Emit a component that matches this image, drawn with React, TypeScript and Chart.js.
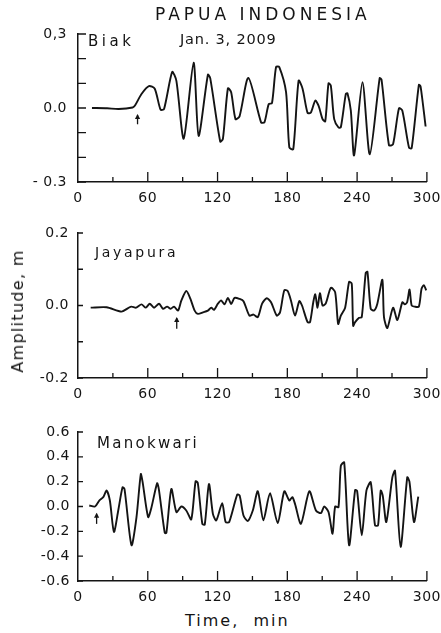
import { useEffect, useRef } from 'react';
import { Chart, registerables } from 'chart.js';

Chart.register(...registerables);

const INK = '#141414';
const FONT = '"DejaVu Sans", "Liberation Sans", sans-serif';

// ---------- data (time in min, amplitude in m) ----------
const timeLabels = [0, 60, 120, 180, 240, 300];

const biakRecord: [number, number][] = [
  [12, 0], [25, -0.001], [35, -0.004], [47, 0.002], [49, 0.01], [54.6, 0.057], [61, 0.089], [66, 0.078],
  [71, -0.007], [74, -0.004], [81, 0.146], [84.6, 0.11], [90.9, -0.124], [99.4, 0.184], [103.7, -0.113],
  [111.7, 0.135], [113.7, 0.121], [122.3, -0.136], [124.6, -0.125], [128.9, 0.08], [131.7, 0.064],
  [135.4, -0.045], [138.9, -0.034], [146.5, 0.122], [157.4, -0.058], [160.3, -0.058], [164, 0.016],
  [166.8, 0.02], [170.3, 0.166], [173.1, 0.166], [178.9, 0.064], [181.7, -0.16], [185.1, -0.167],
  [189.7, 0.111], [193.1, 0.078], [197.4, -0.02], [200.3, -0.018], [204, 0.03], [206.9, 0.009],
  [210.3, -0.045], [212.6, -0.054], [215.4, 0.1], [217.4, 0.091], [220.3, -0.045], [224, -0.079],
  [226, -0.078], [230.3, 0.057], [231.7, 0.06], [234.6, -0.011], [237.4, -0.192], [244.6, 0.105],
  [250.9, -0.188], [259.4, 0.121], [261, 0.115], [267.4, -0.151], [270.9, -0.147], [276, -0.001],
  [278.9, -0.011], [284.6, -0.16], [286.9, -0.163], [293.1, 0.094], [294.6, 0.087], [298.9, -0.075],
];

const jayapuraRecord: [number, number][] = [
  [10.9, -0.006], [24.6, -0.005], [37.4, -0.017], [43.1, -0.007], [46, -0.003], [50, -0.006],
  [54.6, 0.003], [58.3, -0.006], [61.7, 0.005], [65.4, -0.006], [69.7, 0.005], [73.1, -0.009],
  [76.6, -0.003], [79.7, -0.009], [82.6, -0.003], [86, -0.014], [88.9, 0.014], [93.1, 0.04],
  [96.6, 0.019], [100.3, -0.014], [103.1, -0.023], [107.4, -0.019], [111.7, -0.014], [114.6, -0.006],
  [117, -0.012], [120.3, 0.005], [123.1, 0.014], [126, 0.003], [128.9, 0.021], [131.7, 0.004],
  [134.6, 0.021], [139, 0.018], [142.3, 0.012], [147.4, -0.028], [150.9, -0.025], [154.6, -0.032],
  [158.3, 0.005], [162.3, 0.02], [166, 0.009], [170.9, -0.028], [173.7, -0.019], [177.4, 0.042],
  [180.3, 0.04], [183.1, 0.014], [186.6, -0.028], [190.3, 0.012], [192.6, 0], [197.4, -0.046],
  [199.5, -0.046], [202.3, 0.009], [204, 0.031], [206, -0.006], [208, 0.034], [210.3, 0],
  [213.1, 0.006], [217.4, 0.049], [221.1, 0.037], [223.7, -0.051], [226, -0.028], [229.7, -0.006],
  [233.1, 0.065], [235.4, 0.06], [236.6, -0.056], [238.3, -0.046], [241.7, -0.034], [244, -0.032],
  [247.4, 0.09], [248.9, 0.093], [251.7, -0.009], [254.6, -0.014], [257.4, 0.005], [261.7, 0.071],
  [263.1, -0.032], [266, -0.062], [270.9, -0.006], [274.6, -0.04], [278.9, 0.009], [281, 0.003],
  [283, 0.009], [285.1, 0.044], [286.9, 0], [289.5, -0.003], [293.1, -0.003], [295.4, 0.046],
  [297.4, 0.056], [299.4, 0.042],
];

const manokwariRecord: [number, number][] = [
  [9.7, 0.008], [14.6, 0], [18.3, 0.048], [21.7, 0.075], [24.6, 0.128], [27.4, 0.048], [30.9, -0.205],
  [34.6, -0.032], [38.3, 0.155], [40, 0.14], [46, -0.312], [50.3, -0.085], [54, 0.261], [55.5, 0.2],
  [60.3, -0.085], [63.1, -0.01], [68, 0.187], [69.5, 0.14], [74.6, -0.213], [76, -0.213], [80.3, 0.141],
  [84.6, -0.045], [88.9, 0], [93.1, -0.032], [97.4, -0.104], [101.1, 0.203], [103, 0.19], [106.9, -0.139],
  [109, -0.145], [112.6, 0.181], [116, -0.059], [118.9, -0.112], [124, 0.027], [126.9, -0.125],
  [130, -0.125], [136.9, 0.096], [139, 0.088], [142.3, -0.072], [146, -0.117], [150.3, -0.032],
  [154.6, 0.123], [159.4, -0.112], [165.1, 0.107], [171.7, -0.133], [177.4, 0.123], [181.7, 0.048],
  [184.3, 0.075], [186.6, 0.021], [191.7, -0.139], [198.9, 0.123], [204.6, -0.032], [208.9, -0.053],
  [211.7, 0], [215.4, -0.045], [218.9, -0.219], [221.1, 0], [224, -0.005], [226, 0.328], [228.9, 0.355],
  [233.1, -0.312], [238.3, 0.133], [240, 0.125], [244, -0.232], [248, 0.128], [251.7, 0.195],
  [255.4, -0.152], [258, -0.152], [260.3, 0.128], [262, 0.09], [265.1, -0.125], [270.3, 0.235],
  [272.6, 0.288], [277.4, -0.325], [283.1, 0.235], [285, 0.2], [288.9, -0.125], [292.6, 0.08],
];

// arrival arrows: [time, tip amplitude, tail amplitude]
const biakArrival = [51.2, -0.024, -0.066];
const jayapuraArrival = [84.9, -0.032, -0.064];
const manokwariArrival = [16, -0.05, -0.14];

// y tick labels
const biakYValues = [-0.3, 0, 0.3];
const biakYLabels = ['- 0.3', '0.0', '0,3'];
const jayapuraYValues = [-0.2, 0, 0.2];
const jayapuraYLabels = ['-0.2', '0.0', '0.2'];
const manokwariYValues = [-0.6, -0.4, -0.2, 0, 0.2, 0.4, 0.6];
const manokwariYLabels = ['-0.6', '-0.4', '-0.2', '0.0', '0.2', '0.4', '0.6'];

// ---------- plugins ----------
const spacingPlugin = {
  id: 'spacing',
  beforeUpdate(chart: any) {
    (chart.ctx as any).letterSpacing = '0.5px';
  },
  beforeDraw(chart: any) {
    (chart.ctx as any).letterSpacing = '0.5px';
  },
};

const innerTicks = {
  id: 'innerTicks',
  afterDatasetsDraw(chart: any, _args: any, opts: any) {
    const { ctx } = chart;
    const x = chart.scales.x;
    const y = chart.scales.y;
    ctx.save();
    ctx.strokeStyle = INK;
    ctx.lineWidth = 1.3;
    ctx.beginPath();
    x.ticks.forEach((t: any) => {
      if (t.value <= 0) return;
      const px = x.getPixelForValue(t.value);
      const len = t.value % 60 === 0 ? opts.xMajor : opts.xMinor;
      ctx.moveTo(px, y.bottom);
      ctx.lineTo(px, y.bottom - len);
    });
    y.ticks.forEach((t: any) => {
      const py = y.getPixelForValue(t.value);
      ctx.moveTo(x.left, py);
      ctx.lineTo(x.left + opts.yLen, py);
    });
    ctx.stroke();
    // arrival arrow
    const a = opts.arrival;
    if (a) {
      const ax = x.getPixelForValue(a[0]);
      const tip = y.getPixelForValue(a[1]);
      const tail = y.getPixelForValue(a[2]);
      ctx.lineWidth = 1.3;
      ctx.beginPath();
      ctx.moveTo(ax, tail);
      ctx.lineTo(ax, tip + 1);
      ctx.stroke();
      ctx.beginPath();
      ctx.moveTo(ax, tip);
      ctx.lineTo(ax - 2.6, tip + 5);
      ctx.lineTo(ax + 2.6, tip + 5);
      ctx.closePath();
      ctx.fillStyle = INK;
      ctx.fill();
    }
    ctx.restore();
  },
};

type Panel = {
  record: [number, number][];
  min: number;
  max: number;
  step: number;
  yValues: number[];
  yLabels: string[];
  arrival: number[];
  height: number;
  padTop: number;
  xAxisH: number;
  yPad: number;
  yLen: number;
};

const panels: Panel[] = [
  { record: biakRecord, min: -0.3, max: 0.3, step: 0.1, yValues: biakYValues, yLabels: biakYLabels, arrival: biakArrival, height: 212, padTop: 34, xAxisH: 30, yPad: 11, yLen: 8 },
  { record: jayapuraRecord, min: -0.2, max: 0.2, step: 0.1, yValues: jayapuraYValues, yLabels: jayapuraYLabels, arrival: jayapuraArrival, height: 196, padTop: 21, xAxisH: 30, yPad: 9, yLen: 5 },
  { record: manokwariRecord, min: -0.6, max: 0.6, step: 0.2, yValues: manokwariYValues, yLabels: manokwariYLabels, arrival: manokwariArrival, height: 200, padTop: 24, xAxisH: 27, yPad: 8, yLen: 5 },
];

function makeConfig(p: Panel): any {
  return {
    type: 'line',
    data: {
      datasets: [
        {
          data: p.record.map(([t, v]) => ({ x: t, y: v })),
          borderColor: INK,
          borderWidth: 1.9,
          pointRadius: 0,
          tension: 0.25,
          fill: false,
        },
      ],
    },
    options: {
      animation: false,
      responsive: false,
      maintainAspectRatio: false,
      events: [],
      layout: { padding: { top: p.padTop, right: 13, left: 0, bottom: 0 } },
      plugins: {
        legend: { display: false },
        tooltip: { enabled: false },
        title: { display: false },
        innerTicks: { xMajor: 10, xMinor: 5, yLen: p.yLen, arrival: p.arrival },
      },
      scales: {
        x: {
          type: 'linear',
          min: 0,
          max: 300,
          grid: { display: false, drawTicks: false, tickLength: 0 },
          border: { display: true, color: INK, width: 1.5 },
          ticks: {
            stepSize: 30,
            autoSkip: false,
            maxRotation: 0,
            padding: 0,
            color: INK,
            font: { family: FONT, size: 14, lineHeight: 2.3 },
            callback: (v: number) => (timeLabels.includes(Math.round(v)) ? String(Math.round(v)) : ''),
          },
          afterFit: (s: any) => {
            s.height = p.xAxisH;
          },
        },
        y: {
          type: 'linear',
          min: p.min,
          max: p.max,
          grid: { display: false, drawTicks: false, tickLength: 0 },
          border: { display: true, color: INK, width: 1.5 },
          ticks: {
            stepSize: p.step,
            autoSkip: false,
            padding: p.yPad,
            color: INK,
            font: { family: FONT, size: 14 },
            callback: (v: number) => {
              const i = p.yValues.findIndex((w) => Math.abs(w - v) < 1e-6);
              return i >= 0 ? p.yLabels[i] : '';
            },
          },
          afterFit: (s: any) => {
            s.width = 78;
          },
        },
      },
    },
    plugins: [spacingPlugin, innerTicks],
  };
}

function PanelChart({ panel, top }: { panel: Panel; top: number }) {
  const ref = useRef<HTMLCanvasElement>(null);
  useEffect(() => {
    if (!ref.current) return;
    const chart = new Chart(ref.current, makeConfig(panel));
    return () => chart.destroy();
  }, [panel]);
  return (
    <canvas
      ref={ref}
      width={441}
      height={panel.height}
      style={{ position: 'absolute', left: 0, top, width: 441, height: panel.height, display: 'block' }}
    />
  );
}

const textBase: any = {
  position: 'absolute',
  fontFamily: FONT,
  color: INK,
  whiteSpace: 'pre',
};

export default function App() {
  return (
    <div style={{ position: 'absolute', left: 0, top: 0, width: 441, height: 633, background: '#fff', overflow: 'hidden' }}>
      <PanelChart panel={panels[0]} top={0} />
      <PanelChart panel={panels[1]} top={212} />
      <PanelChart panel={panels[2]} top={408} />
      <div style={{ ...textBase, left: 155, top: 6, fontSize: 17, lineHeight: '17px', letterSpacing: '4px' }}>PAPUA INDONESIA</div>
      <div style={{ ...textBase, left: 180, top: 31.5, fontSize: 14.5, lineHeight: '14.5px', letterSpacing: '0.8px' }}>Jan. 3, 2009</div>
      <div style={{ ...textBase, left: 88, top: 34, fontSize: 15, lineHeight: '15px', letterSpacing: '3.5px' }}>Biak</div>
      <div style={{ ...textBase, left: 95, top: 245, fontSize: 14, lineHeight: '14px', letterSpacing: '2.7px' }}>Jayapura</div>
      <div style={{ ...textBase, left: 97, top: 436, fontSize: 15, lineHeight: '15px', letterSpacing: '2.3px' }}>Manokwari</div>
      <div style={{ ...textBase, left: 185, top: 613, fontSize: 16, lineHeight: '16px', letterSpacing: '2px' }}>{'Time,  min'}</div>
      <div
        style={{
          ...textBase,
          left: 18,
          top: 311,
          fontSize: 16,
          lineHeight: '16px',
          letterSpacing: '1.3px',
          transform: 'translate(-50%, -50%) rotate(-90deg)',
        }}
      >
        Amplitude, m
      </div>
    </div>
  );
}
